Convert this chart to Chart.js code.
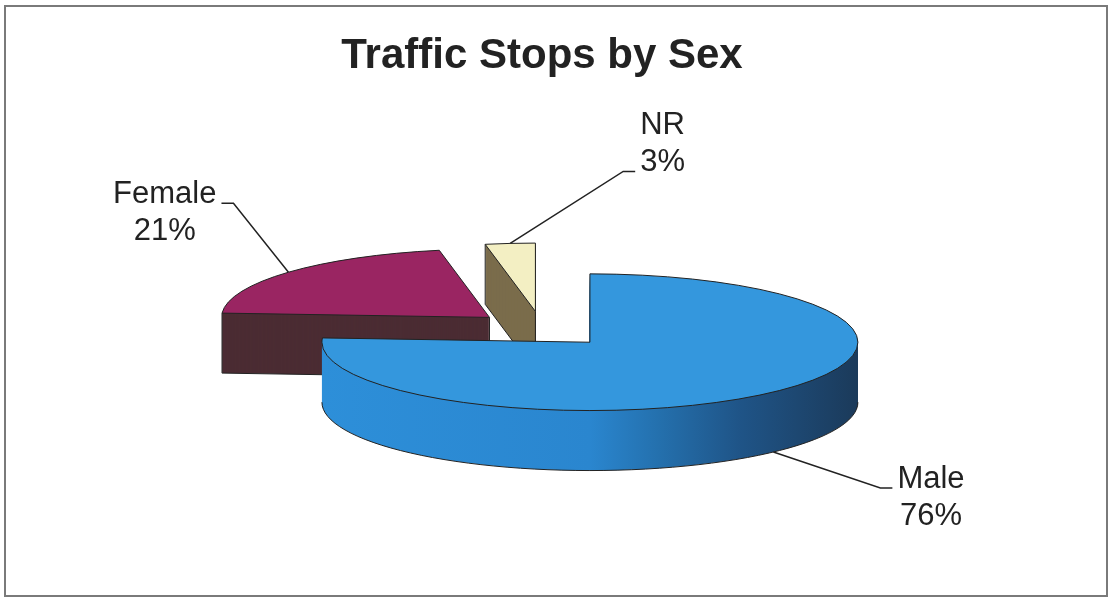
<!DOCTYPE html>
<html lang="en">
<head>
<meta charset="UTF-8">
<title>Traffic Stops by Sex</title>
<script src="https://cdn.jsdelivr.net/npm/chart.js"></script>
<style>
  html, body { margin: 0; padding: 0; background: #fff; }
</style>
</head>
<body>
<canvas id="stopsChart" width="1110" height="600"></canvas>
<script>
// data
const categories = ['Male', 'Female', 'NR'];
const percentValues = [76, 21, 3];
const percentLabels = ['76%', '21%', '3%'];

// look
const topColors = ['#3497dd', '#9a2562', '#f3efc3'];
const sideColors = ['gradient', '#4b2c33', '#7a6c4b'];
const TILT = 0.255;     // vertical squash of the pie
const DEPTH = 60;       // thickness in px
const EXPLODE = 70;     // how far each slice is pulled out
const FONT = '"Liberation Sans", Arial, sans-serif';

// where each leader line bends, relative to the point on the slice
const labelLayout = [
    { dx: 107, dy: 36, side: 1, lift: 0 },
    { dx: -55, dy: -69, side: -1, lift: 0 },
    { dx: 113, dy: -72, side: 1, lift: -37 }
];

function place(ctx, arc, dy, ex, ey) {
    ctx.translate(arc.x, arc.y + dy);
    ctx.scale(1, TILT);
    ctx.translate(-arc.x + ex, -arc.y + ey);
}

function slicePath(ctx, arc) {
    ctx.beginPath();
    ctx.moveTo(arc.x, arc.y);
    ctx.arc(arc.x, arc.y, arc.outerRadius, arc.startAngle, arc.endAngle);
    ctx.closePath();
}

function explodeOf(arc) {
    const mid = (arc.startAngle + arc.endAngle) / 2;
    return { mid, ex: Math.cos(mid) * EXPLODE, ey: Math.sin(mid) * EXPLODE };
}

function toScreen(arc, ex, ey, ux, uy, dy) {
    return { x: arc.x + ex + ux, y: arc.y + TILT * (ey + uy) + dy };
}

const pie3d = {
    id: 'pie3d',
    beforeDatasetDraw() {
        return false; // drawn below, back to front
    },
    afterDatasetsDraw(chart) {
        const ctx = chart.ctx;
        const arcs = chart.getDatasetMeta(0).data;
        const order = arcs.map((a, i) => i).reverse();

        order.forEach(i => {
            const arc = arcs[i];
            const r = arc.outerRadius;
            const { ex, ey } = explodeOf(arc);

            // side walls: stack of copies shifted down
            for (let d = DEPTH; d >= 1; d--) {
                ctx.save();
                place(ctx, arc, d, ex, ey);
                if (sideColors[i] === 'gradient') {
                    const g = ctx.createLinearGradient(arc.x - r, 0, arc.x + r, 0);
                    g.addColorStop(0, '#2d8fd9');
                    g.addColorStop(0.5, '#2a86cf');
                    g.addColorStop(0.63, '#2470ad');
                    g.addColorStop(0.78, '#1f5487');
                    g.addColorStop(1, '#1b3a5a');
                    ctx.fillStyle = g;
                } else {
                    ctx.fillStyle = sideColors[i];
                }
                slicePath(ctx, arc);
                ctx.fill();
                ctx.restore();
            }

            // outline of the visible side edges
            ctx.save();
            ctx.strokeStyle = '#222';
            ctx.lineWidth = 1;
            const s = arc.startAngle, e = arc.endAngle;
            [[0, Math.PI], [2 * Math.PI, 3 * Math.PI]].forEach(([a0, a1]) => {
                const lo = Math.max(s, a0), hi = Math.min(e, a1);
                if (hi <= lo) return;
                ctx.beginPath();
                for (let k = 0; k <= 60; k++) {
                    const a = lo + (hi - lo) * k / 60;
                    const p = toScreen(arc, ex, ey, r * Math.cos(a), r * Math.sin(a), DEPTH);
                    k === 0 ? ctx.moveTo(p.x, p.y) : ctx.lineTo(p.x, p.y);
                }
                ctx.stroke();
            });
            const faces = [];
            if (Math.cos(s) < -0.01) faces.push(s);
            if (Math.cos(e) > 0.01) faces.push(e);
            faces.forEach(a => {
                const c0 = toScreen(arc, ex, ey, 0, 0, 0);
                const o0 = toScreen(arc, ex, ey, r * Math.cos(a), r * Math.sin(a), 0);
                ctx.beginPath();
                ctx.moveTo(c0.x, c0.y);
                ctx.lineTo(c0.x, c0.y + DEPTH);
                ctx.lineTo(o0.x, o0.y + DEPTH);
                ctx.lineTo(o0.x, o0.y);
                ctx.stroke();
            });
            ctx.restore();

            // top face, drawn by the arc element itself
            ctx.save();
            place(ctx, arc, 0, ex, ey);
            arc.draw(ctx);
            slicePath(ctx, arc);
            ctx.restore();
            ctx.strokeStyle = '#222';
            ctx.lineWidth = 1;
            ctx.stroke();
        });

        // data labels with leader lines
        ctx.save();
        ctx.font = '31px ' + FONT;
        ctx.fillStyle = '#222';
        ctx.strokeStyle = '#222';
        ctx.lineWidth = 1.5;
        ctx.textAlign = 'center';
        ctx.textBaseline = 'alphabetic';
        arcs.forEach((arc, i) => {
            const r = arc.outerRadius;
            const { mid, ex, ey } = explodeOf(arc);
            const front = Math.sin(mid) > 0 ? DEPTH : 0;
            const a = toScreen(arc, ex, ey, r * Math.cos(mid), r * Math.sin(mid), front);
            const L = labelLayout[i];
            const elbow = { x: a.x + L.dx, y: a.y + L.dy };
            const tick = { x: elbow.x + L.side * 12, y: elbow.y };
            ctx.beginPath();
            ctx.moveTo(a.x, a.y);
            ctx.lineTo(elbow.x, elbow.y);
            ctx.lineTo(tick.x, tick.y);
            ctx.stroke();

            const lines = [categories[i], percentLabels[i]];
            const w = Math.max(...lines.map(t => ctx.measureText(t).width));
            const cx = tick.x + L.side * (5 + w / 2);
            const y0 = tick.y + L.lift;
            lines.forEach((t, k) => ctx.fillText(t, cx, y0 + k * 37));
        });
        ctx.restore();
    },
    afterDraw(chart) {
        const ctx = chart.ctx;
        ctx.save();
        ctx.strokeStyle = '#7a7a7a';
        ctx.lineWidth = 2;
        ctx.strokeRect(5, 6, 1102, 590);
        ctx.restore();
    }
};

const stopsChart = new Chart(document.getElementById('stopsChart').getContext('2d'), {
    type: 'pie',
    data: {
        labels: categories,
        datasets: [{
            data: percentValues,
            backgroundColor: topColors,
            borderWidth: 0,
            radius: 268,
            clip: false
        }]
    },
    options: {
        responsive: false,
        animation: false,
        layout: { padding: { top: 21, right: 26, bottom: 33, left: 0 } },
        plugins: {
            legend: { display: false },
            tooltip: { enabled: false },
            title: {
                display: true,
                text: 'Traffic Stops by Sex',
                color: '#222',
                font: { family: FONT, size: 42, weight: 'bold' },
                padding: { top: 10, bottom: 10 }
            }
        }
    },
    plugins: [pie3d]
});
</script>
</body>
</html>
